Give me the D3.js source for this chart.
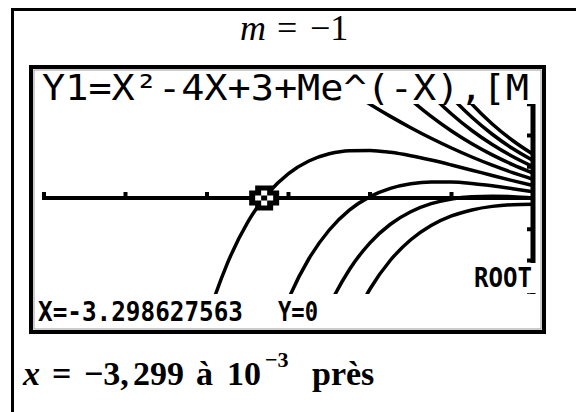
<!doctype html>
<html>
<head>
<meta charset="utf-8">
<script src="https://d3js.org/d3.v7.min.js"></script>
<style>
  body { margin: 0; background: #fff; }
  svg { display: block; }
  .calc { font-family: "DejaVu Sans Mono", monospace; fill: #000; }
  .serif { font-family: "Liberation Serif", "DejaVu Serif", serif; fill: #000; }
</style>
</head>
<body>
<script>
// window of the calculator : Xmin=-6 Xmax=0 Xscl=1 , Ymin=-20 Ymax=20 Yscl=5
var xTicks = [-6, -5, -4, -3, -2, -1];
var yTicks = [-15, -10, -5, 5, 10, 15];

// sample abscissas read on the screen
var xGrid = [-4.25, -4, -3.75, -3.5, -3.25, -3, -2.75, -2.5, -2.25, -2, -1.75, -1.5, -1.25, -1, -0.75, -0.5, -0.25, 0];

// one curve per value of M (null = off screen)
var mValues = [-4, -3, -2, -1, 0, 1, 2, 3, 4];
var yMm4 = [null, null, null, null, null, null, null, null, -20.89, -14.56, -9.96, -6.68, -4.40, -2.87, -1.91, -1.34, -1.07, -1];
var yMm3 = [null, null, null, null, null, null, -25.37, -17.30, -11.40, -7.17, -4.20, -2.20, -0.91, -0.15, 0.21, 0.30, 0.21, 0];
var yMm2 = [null, null, null, null, -25.02, -16.17, -9.72, -5.12, -1.91, 0.22, 1.55, 2.29, 2.58, 2.56, 2.33, 1.95, 1.49, 1];
var yMm1 = [-32.04, -19.60, -10.46, -3.87, 0.77, 3.91, 5.92, 7.07, 7.57, 7.61, 7.31, 6.77, 6.07, 5.28, 4.45, 3.60, 2.78, 2];
var yM0 = [null, null, null, null, null, null, 21.56, 19.25, 17.06, 15, 13.06, 11.25, 9.56, 8, 6.56, 5.25, 4.06, 3];
var yM1 = [null, null, null, null, null, null, null, null, null, 22.39, 18.82, 15.73, 13.05, 10.72, 8.68, 6.90, 5.35, 4];
var yM2 = [null, null, null, null, null, null, null, null, null, null, null, 20.21, 16.54, 13.44, 10.80, 8.55, 6.63, 5];
var yM3 = [null, null, null, null, null, null, null, null, null, null, null, 24.70, 20.03, 16.15, 12.91, 10.20, 7.91, 6];
var yM4 = [null, null, null, null, null, null, null, null, null, null, null, null, 23.52, 18.87, 15.03, 11.84, 9.20, 7];
var curves = [yMm4, yMm3, yMm2, yMm1, yM0, yM1, yM2, yM3, yM4];

var rootX = -3.298627563;

var W = 576, H = 412;
var svg = d3.select("body").append("svg")
	.attr("width", W)
	.attr("height", H);

// outer frame of the exercise
svg.append("path")
	.attr("d", "M12.5," + (H + 5) + " L12.5,9.5 L" + (W + 5) + ",9.5")
	.attr("fill", "none")
	.attr("stroke", "#000")
	.attr("stroke-width", 3);

// title  m = -1
var title = svg.append("text").attr("class", "serif")
	.attr("y", 40)
	.style("font-size", "36px");
title.append("tspan").attr("x", 240).style("font-style", "italic").text("m");
title.append("tspan").attr("x", 277).text("=");
title.append("tspan").attr("x", 310).text("−1");

// calculator screen
svg.append("rect")
	.attr("x", 31).attr("y", 67)
	.attr("width", 513).attr("height", 265)
	.attr("fill", "#fff")
	.attr("stroke", "#000")
	.attr("stroke-width", 4);
svg.append("rect")
	.attr("x", 34).attr("y", 70)
	.attr("width", 507).attr("height", 259)
	.attr("fill", "none")
	.attr("stroke", "#999")
	.attr("stroke-width", 1);

var xScale = d3.scaleLinear().domain([-6, 0]).range([44, 533]);
var yScale = d3.scaleLinear().domain([-20, 20]).range([323, 73]);

svg.append("clipPath").attr("id", "screen")
	.append("rect")
	.attr("x", 36).attr("y", 104)
	.attr("width", 503).attr("height", 190);

var g = svg.append("g").attr("clip-path", "url(#screen)");

// x axis
var x0 = xScale(-6), x1 = xScale(0), yAx = yScale(0);
g.append("line")
	.attr("x1", x0 - 2).attr("x2", x1)
	.attr("y1", yAx).attr("y2", yAx)
	.attr("stroke", "#000").attr("stroke-width", 4);
g.selectAll(".xt").data(xTicks).enter().append("line")
	.attr("x1", d => xScale(d)).attr("x2", d => xScale(d))
	.attr("y1", yAx - 6).attr("y2", yAx)
	.attr("stroke", "#000").attr("stroke-width", 4);

// y axis
g.append("line")
	.attr("x1", x1).attr("x2", x1)
	.attr("y1", yScale(20)).attr("y2", yScale(-20))
	.attr("stroke", "#000").attr("stroke-width", 5);
g.selectAll(".yt").data(yTicks).enter().append("line")
	.attr("x1", x1 - 6).attr("x2", x1)
	.attr("y1", d => yScale(d)).attr("y2", d => yScale(d))
	.attr("stroke", "#000").attr("stroke-width", 4);

// the family of curves
var line = d3.line()
	.defined(d => d[1] != null)
	.x(d => xScale(d[0]))
	.y(d => yScale(d[1]))
	.curve(d3.curveMonotoneX);

g.selectAll(".curve").data(curves).enter().append("path")
	.attr("d", ys => line(xGrid.map((x, i) => [x, ys[i]])))
	.attr("fill", "none")
	.attr("stroke", "#000")
	.attr("stroke-width", 3.5);

// root cursor
var cx = xScale(rootX), cy = yScale(0), pw = 6, ph = 5;
var plus = [[-1.5,-2.5],[1.5,-2.5],[1.5,-1.5],[2.5,-1.5],[2.5,1.5],[1.5,1.5],[1.5,2.5],[-1.5,2.5],[-1.5,1.5],[-2.5,1.5],[-2.5,-1.5],[-1.5,-1.5]];
svg.append("polygon")
	.attr("points", plus.map(p => (cx + p[0] * pw) + "," + (cy + p[1] * ph)).join(" "))
	.attr("fill", "#000");
var inner = [[-0.5,-1.5],[0.5,-1.5],[0.5,-0.5],[1.5,-0.5],[1.5,0.5],[0.5,0.5],[0.5,1.5],[-0.5,1.5],[-0.5,0.5],[-1.5,0.5],[-1.5,-0.5],[-0.5,-0.5]];
svg.append("polygon")
	.attr("points", inner.map(p => (cx + p[0] * pw) + "," + (cy + p[1] * ph)).join(" "))
	.attr("fill", "#fff");
svg.append("rect")
	.attr("x", cx - pw / 2).attr("y", cy - ph / 2)
	.attr("width", pw).attr("height", ph)
	.attr("fill", "#000");

// texts of the screen
svg.append("text").attr("class", "calc")
	.attr("x", 42).attr("y", 100)
	.attr("textLength", 487).attr("lengthAdjust", "spacingAndGlyphs")
	.style("font-size", "35px")
	.text("Y1=X²-4X+3+Me^(-X),[M");

svg.append("rect")
	.attr("x", 468).attr("y", 263)
	.attr("width", 72).attr("height", 30)
	.attr("fill", "#fff");
svg.append("text").attr("class", "calc")
	.attr("x", 474).attr("y", 287)
	.attr("textLength", 58).attr("lengthAdjust", "spacingAndGlyphs")
	.style("font-size", "26px").style("font-weight", "bold")
	.text("ROOT");

svg.append("text").attr("class", "calc")
	.attr("x", 38).attr("y", 321)
	.attr("textLength", 205).attr("lengthAdjust", "spacingAndGlyphs")
	.style("font-size", "27px").style("font-weight", "bold")
	.text("X=-3.298627563");
svg.append("text").attr("class", "calc")
	.attr("x", 278).attr("y", 321)
	.attr("textLength", 40).attr("lengthAdjust", "spacingAndGlyphs")
	.style("font-size", "27px").style("font-weight", "bold")
	.text("Y=0");

// conclusion
var concl = svg.append("text").attr("class", "serif")
	.attr("y", 385)
	.style("font-size", "34px")
	.style("font-weight", "bold");
concl.append("tspan").attr("x", 23).style("font-style", "italic").text("x");
concl.append("tspan").attr("x", 52).text("=");
concl.append("tspan").attr("x", 84).text("−3,");
concl.append("tspan").attr("x", 133).text("299");
concl.append("tspan").attr("x", 196).text("à");
concl.append("tspan").attr("x", 227).text("10");
concl.append("tspan").attr("x", 265).attr("dy", -18).style("font-size", "22px").text("−3");
concl.append("tspan").attr("x", 312).attr("dy", 18).text("près");
</script>
</body>
</html>
